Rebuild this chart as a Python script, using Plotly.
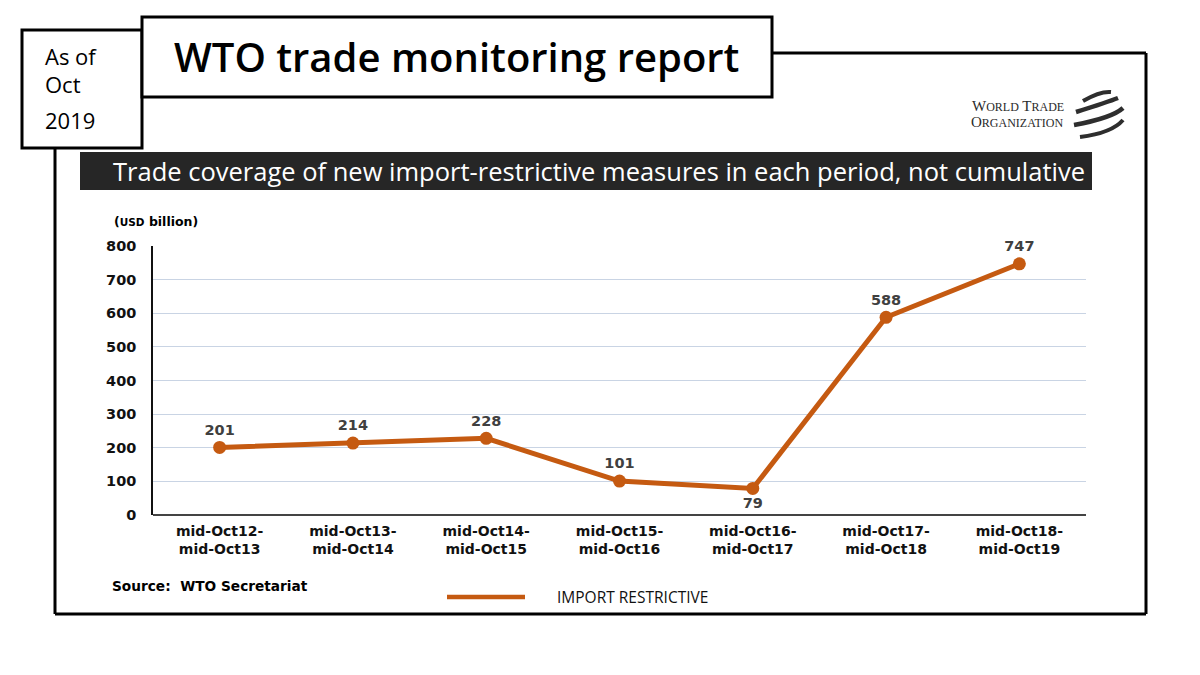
import plotly.graph_objects as go

W, H = 1200, 675
OFF = 8  # page body offset of the figure

categories = ["mid-Oct12-<br>mid-Oct13", "mid-Oct13-<br>mid-Oct14", "mid-Oct14-<br>mid-Oct15",
              "mid-Oct15-<br>mid-Oct16", "mid-Oct16-<br>mid-Oct17", "mid-Oct17-<br>mid-Oct18",
              "mid-Oct18-<br>mid-Oct19"]
values = [201, 214, 228, 101, 79, 588, 747]
label_pos = ["top center", "top center", "top center", "top center", "bottom center", "top center", "top center"]
y_ticks = [0, 100, 200, 300, 400, 500, 600, 700, 800]
series_name = "IMPORT RESTRICTIVE"

LINE = "#c55a11"


def px(x):
    return (x - OFF) / W


def py(y):
    return 1 - (y - OFF) / H


fig = go.Figure()
fig.add_trace(go.Scatter(
    x=categories, y=values, mode="lines+markers+text",
    name=series_name,
    line=dict(color=LINE, width=5),
    marker=dict(color=LINE, size=13),
    text=[str(v) for v in values], textposition=label_pos,
    textfont=dict(family="DejaVu Sans", size=14.5, color="#404040", weight="bold"),
    showlegend=False, hoverinfo="x+y", cliponaxis=False,
))

shapes = []
ann = []
K = "#000000"


def seg(x0, y0, x1, y1, w=3, c=K):
    shapes.append(dict(type="line", xref="paper", yref="paper",
                       x0=px(x0), y0=py(y0), x1=px(x1), y1=py(y1),
                       line=dict(color=c, width=w)))


# outer frame
seg(772, 53, 1146, 53)
seg(1146, 53, 1146, 614)
seg(55, 614, 1146, 614)
seg(55, 148, 55, 614)

# "As of" box
shapes.append(dict(type="rect", xref="paper", yref="paper",
                   x0=px(22), y0=py(148), x1=px(142), y1=py(30),
                   line=dict(color=K, width=3), fillcolor="white"))
# title box
shapes.append(dict(type="rect", xref="paper", yref="paper",
                   x0=px(142), y0=py(97), x1=px(772), y1=py(17),
                   line=dict(color=K, width=3), fillcolor="white"))
# dark band
shapes.append(dict(type="rect", xref="paper", yref="paper",
                   x0=px(80), y0=py(190), x1=px(1092), y1=py(152),
                   line=dict(width=0), fillcolor="#262626"))

# legend line
seg(447, 597, 525, 597, w=4.5, c=LINE)

# WTO logo swirl
swirls = [
    ((1083, 101), (1100, 91), (1111, 92), 4),
    ((1076, 112), (1108, 102), (1118, 98), 4.5),
    ((1074, 125), (1112, 118), (1123, 108), 4.5),
    ((1080, 137), (1112, 133), (1123, 120), 4),
]
for (a, c, b, w) in swirls:
    shapes.append(dict(type="path", xref="paper", yref="paper",
                       path=f"M {px(a[0])},{py(a[1])} Q {px(c[0])},{py(c[1])} {px(b[0])},{py(b[1])}",
                       line=dict(color="#2e2e2e", width=w)))


def text(x, y, s, size, color="#000000", family="Open Sans", xanchor="left", yanchor="middle",
         weight="normal", align="left"):
    ann.append(dict(xref="paper", yref="paper", x=px(x), y=py(y), text=s, showarrow=False,
                    xanchor=xanchor, yanchor=yanchor, align=align,
                    font=dict(size=size, color=color, family=family, weight=weight)))


text(43, 56, "As of", 22)
text(43, 84, "Oct", 22)
text(43, 120, "2019", 22)
text(456, 56, "WTO trade monitoring report", 40, xanchor="center", weight=600)
text(599, 171, "Trade coverage of new import-restrictive measures in each period, not cumulative", 25.5,
     color="white", xanchor="center")
text(1066, 106, "W<span style='font-size:12px'>ORLD</span> T<span style='font-size:12px'>RADE</span>",
     15, color="#2a2a2a", family="Liberation Serif", xanchor="right")
text(1066, 122, "O<span style='font-size:12px'>RGANIZATION</span>",
     15, color="#2a2a2a", family="Liberation Serif", xanchor="right")
text(112, 222, "(<span style='font-size:10.5px'>USD</span> billion)", 12.5, family="DejaVu Sans", weight="bold")
text(110, 586, "Source:  WTO Secretariat", 13.7, family="DejaVu Sans", weight="bold")
text(555, 597, series_name, 15.5, color="#111111")

fig.update_layout(
    width=W, height=H,
    margin=dict(l=0, r=0, t=0, b=0, autoexpand=False),
    paper_bgcolor="white", plot_bgcolor="white",
    shapes=shapes, annotations=ann,
    xaxis=dict(domain=[px(153), px(1086)], type="category", range=[-0.5, 6.5],
               showgrid=False, showline=False, ticks="", zeroline=False, automargin=False,
               ticklabelstandoff=6,
               tickfont=dict(family="DejaVu Sans", size=14, color="#111111", weight="bold")),
    yaxis=dict(domain=[py(515), py(246)], range=[0, 800], tickvals=y_ticks,
               showgrid=True, gridcolor="#c9d4e4", gridwidth=1,
               showline=True, linecolor="#111111", linewidth=1.5,
               zeroline=True, zerolinecolor="#444444", zerolinewidth=1.5,
               ticks="", ticklabelstandoff=12, automargin=False,
               tickfont=dict(family="DejaVu Sans", size=14.5, color="#111111", weight="bold")),
)

fig.write_html("out.html")
